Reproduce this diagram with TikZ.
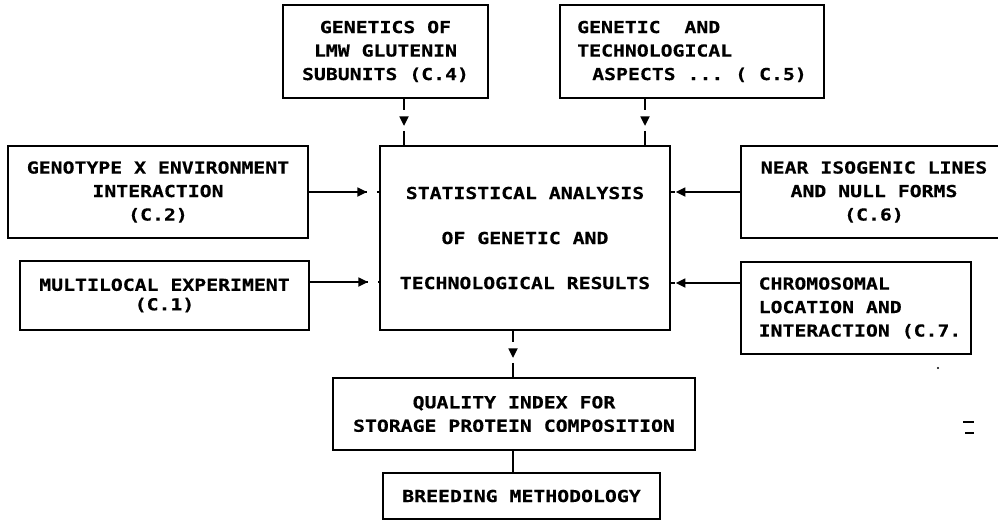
\documentclass[tikz,border=0pt]{standalone}
\usepackage{fontspec}
\setmonofont[FakeStretch=1.2,BoldFont={DejaVu Sans Mono Bold},BoldFeatures={FakeStretch=1.2,FakeBold=0.4}]{DejaVu Sans Mono}
\usetikzlibrary{arrows.meta,decorations.markings}

\tikzset{
  box/.style={draw, line width=1.7pt, rectangle, inner sep=0pt,
    font=\ttfamily\bfseries\fontsize{16.5}{23.5}\selectfont, align=center},
  ftip/.tip={Triangle[length=9.5pt,width=9pt]},
  % vertical feed: stub, gap, arrowhead, gap, stub
  vfeed/.style={line width=1.7pt, dash pattern=on 11pt off 21pt on 40pt,
    postaction={decorate},
    decoration={markings, mark=at position 27pt with {\arrow{ftip}}}},
  % horizontal feed: long line with arrowhead, then a short tick at the box
  hfeed/.style={line width=1.7pt, dash pattern=on #1 off 10pt on 20pt,
    postaction={decorate},
    decoration={markings, mark=at position #1 with {\arrow{ftip}}}},
}

\begin{document}
\begin{tikzpicture}[x=1pt,y=-1pt]
  \useasboundingbox (0,0) rectangle (998,520);
  \fill[white] (0,0) rectangle (998,520);
  \clip (0,0) rectangle (998,520);

  % connector positions
  \coordinate (k4) at (404,0);
  \coordinate (k5) at (645,0);
  \coordinate (kq) at (513,0);
  \coordinate (k1) at (0,282);
  \coordinate (k7) at (0,283);

  % boxes
  \node[box, minimum width=205pt, minimum height=93pt] (c4) at (385.5,51.5)
    {GENETICS OF\\LMW GLUTENIN\\SUBUNITS (C.4)};
  \node[box, minimum width=264pt, minimum height=93pt, align=left] (c5) at (692,51.5)
    {GENETIC\hspace*{23.8pt}AND\\TECHNOLOGICAL\\\hspace*{15pt}ASPECTS ... ( C.5)};
  \node[box, minimum width=300pt, minimum height=92pt] (c2) at (158,192)
    {GENOTYPE X ENVIRONMENT\\INTERACTION\\(C.2)};
  \node[box, minimum width=289pt, minimum height=69pt] (c1) at (164.5,295.5)
    {MULTILOCAL EXPERIMENT\\[-4pt](C.1)};
  \node[box, minimum width=290pt, minimum height=184pt,
        font=\ttfamily\bfseries\fontsize{16.5}{45}\selectfont] (main) at (525,238)
    {STATISTICAL ANALYSIS\\OF GENETIC AND\\TECHNOLOGICAL RESULTS};
  \node[box, minimum width=266pt, minimum height=92pt] (c6) at (874,192)
    {NEAR ISOGENIC LINES\\AND NULL FORMS\\(C.6)};
  \node[box, minimum width=230pt, minimum height=92pt, align=left] (c7) at (856,308)
    {\hspace*{8pt}CHROMOSOMAL\\\hspace*{8pt}LOCATION AND\\\hspace*{8pt}INTERACTION (C.7.};
  \node[box, minimum width=362pt, minimum height=72pt] (qi) at (514,414)
    {QUALITY INDEX FOR\\STORAGE PROTEIN COMPOSITION};
  \node[box, minimum width=277pt, minimum height=46pt] (br) at (521.5,496)
    {BREEDING METHODOLOGY};

  % connectors
  \draw[vfeed] (c4.south -| k4) -- (main.north -| k4);
  \draw[vfeed] (c5.south -| k5) -- (main.north -| k5);
  \draw[vfeed] (main.south -| kq) -- (qi.north -| kq);
  \draw[line width=1.7pt] (qi.south -| kq) -- (br.north -| kq);

  \draw[hfeed=58pt] (c2.east) -- (c2.east -| main.west);
  \draw[hfeed=58pt] (c1.east |- k1) -- (main.west |- k1);
  \draw[line width=1.7pt, -{ftip}, shorten >=5pt]
    (c6.west) -- (c6.west -| main.east);
  \draw[line width=1.7pt] (c6.west -| main.east) -- ++(4pt,0);
  \draw[line width=1.7pt, -{ftip}, shorten >=5pt]
    (c7.west |- k7) -- (main.east |- k7);
  \draw[line width=1.7pt] (main.east |- k7) -- ++(4pt,0);

  % specks at the right margin
  \fill (938,368) circle (1.2pt);
  \draw[line width=1.8pt] (963,422) -- (974,422);
  \draw[line width=1.8pt] (965,433) -- (974,433);
\end{tikzpicture}
\end{document}
